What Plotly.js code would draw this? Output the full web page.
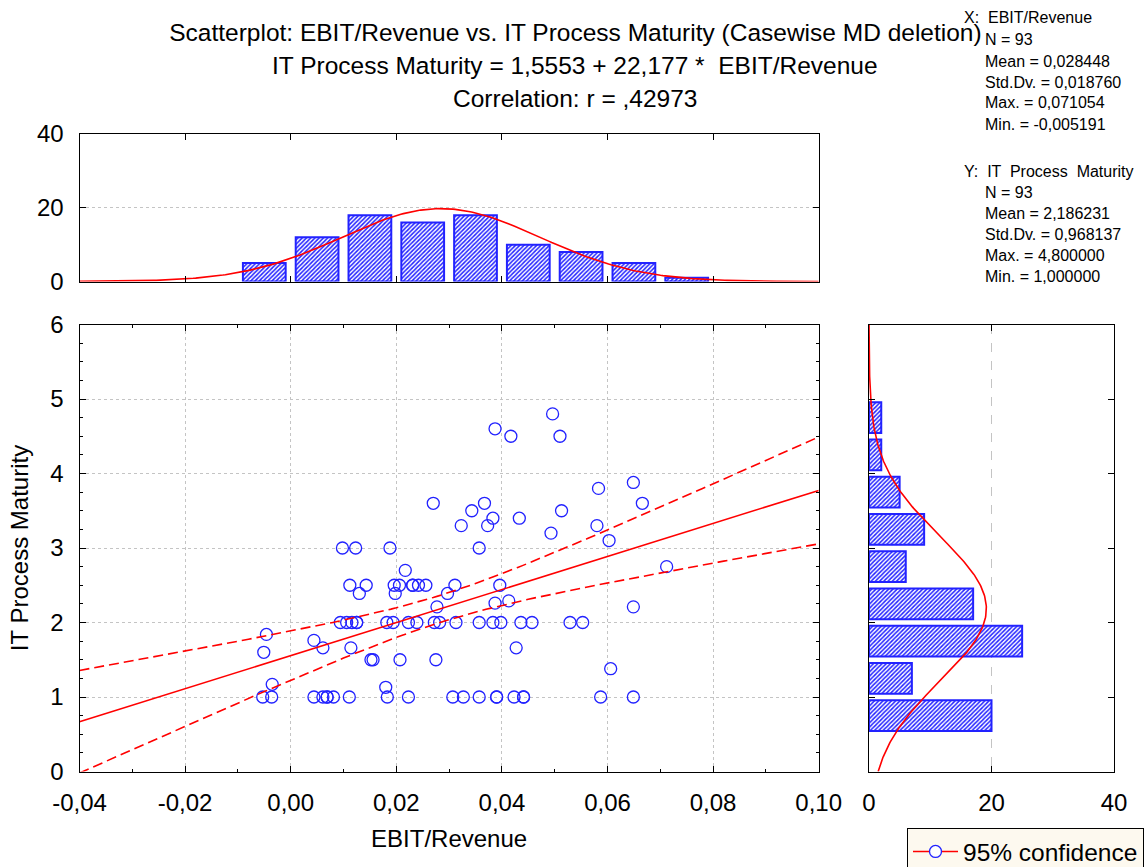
<!DOCTYPE html>
<html><head><meta charset="utf-8">
<script src="https://cdn.plot.ly/plotly-3.0.1.min.js"></script>
<style>html,body{margin:0;padding:0;background:#fff}#chart{width:1144px;height:867px}</style>
</head><body><div id="chart"></div><script>
// ---- Data ----
const ebitRevenue = [
  -0.0053,-0.0036,0.0044,0.0061,0.0069,0.0081,0.0111,0.0183,0.0223,0.0307,0.0327,0.0357,0.0390,0.0423,0.0441,0.0587,0.0649,
  -0.0035,0.0180,0.0606,0.0152,0.0156,0.0207,0.0275,-0.0051,0.0061,0.0114,0.0427,0.0044,-0.0046,
  0.0094,0.0106,0.0116,0.0125,0.0182,0.0194,0.0223,0.0239,0.0272,0.0282,0.0313,0.0357,0.0383,0.0398,0.0436,0.0457,0.0529,0.0553,
  0.0277,0.0387,0.0413,0.0649,0.0130,0.0198,0.0297,
  0.0112,0.0143,0.0196,0.0206,0.0231,0.0242,0.0256,0.0311,0.0396,
  0.0217,0.0712,
  0.0098,0.0123,0.0188,0.0357,
  0.0603,0.0493,0.0323,0.0373,0.0580,0.0383,0.0433,0.0343,0.0513,0.0270,0.0367,0.0666,0.0583,0.0649,
  0.0510,0.0417,0.0387,0.0496,
  0.0069,0.0390,0.0441,0.0125,0.0231
];
const itMaturity = [
  1,1,1,1,1,1,1,1,1,1,1,1,1,1,1,1,1,
  1.17,1.13,1.38,1.5,1.5,1.5,1.5,1.6,1.66,1.66,1.66,1.76,1.84,
  2,2,2,2,2,2,2,2,2,2,2,2,2,2,2,2,2,2,
  2.21,2.26,2.29,2.21,2.39,2.39,2.39,
  2.5,2.5,2.5,2.5,2.5,2.5,2.5,2.5,2.5,
  2.7,2.75,
  3,3,3,3,
  3.1,3.2,3.3,3.3,3.3,3.4,3.4,3.5,3.5,3.6,3.6,3.6,3.8,3.88,
  4.5,4.5,4.6,4.8,
  1,1,1,2,2.5
];
// Histogram of EBIT/Revenue (bin centres, counts)
const xBinCenters = [-0.005,0.005,0.015,0.025,0.035,0.045,0.055,0.065,0.075];
const xBinCounts  = [5,12,18,16,18,10,8,5,1];
// Histogram of IT Process Maturity (bin centres, counts)
const yBinCenters = [0.75,1.25,1.75,2.25,2.75,3.25,3.75,4.25,4.75];
const yBinCounts  = [20,7,25,17,6,9,5,2,2];
// Statistics shown on the chart
const nObs = 93;
const xMean = 0.028448, xSd = 0.018760, xMax = 0.071054, xMin = -0.005191;
const yMean = 2.186231, ySd = 0.968137, yMax = 4.8, yMin = 1.0;
const regIntercept = 1.5553, regSlope = 22.177, corrR = 0.42973;
const xBinWidth = 0.01, yBinWidth = 0.5;
const xAxisRange = [-0.04, 0.10], yAxisRange = [0, 6];
const xTickVals = [-0.04,-0.02,0,0.02,0.04,0.06,0.08,0.10];
const xTickText = ['-0,04','-0,02','0,00','0,02','0,04','0,06','0,08','0,10'];
const statsX = ['X:  EBIT/Revenue','N = 93','Mean = 0,028448','Std.Dv. = 0,018760','Max. = 0,071054','Min. = -0,005191'];
const statsY = ['Y:  IT  Process  Maturity','N = 93','Mean = 2,186231','Std.Dv. = 0,968137','Max. = 4,800000','Min. = 1,000000'];
const titleLines = ['Scatterplot: EBIT/Revenue vs. IT Process Maturity (Casewise MD deletion)',
                    'IT Process Maturity = 1,5553 + 22,177 *  EBIT/Revenue',
                    'Correlation: r = ,42973'];

// ---- Derived curves (regression, confidence band, normal fits) ----
function linspace(a,b,n){const o=[];for(let i=0;i<n;i++)o.push(a+(b-a)*i/(n-1));return o;}
const regX = linspace(xAxisRange[0], xAxisRange[1], 141);
const regY = regX.map(x => regIntercept + regSlope*x);
const sRes = ySd*Math.sqrt(1-corrR*corrR)*Math.sqrt((nObs-1)/(nObs-2));
const sxx = (nObs-1)*xSd*xSd, tCrit = 1.986;
const half = regX.map(x => tCrit*sRes*Math.sqrt(1/nObs + (x-xMean)*(x-xMean)/sxx));
const upY = regY.map((v,i)=>v+half[i]), loY = regY.map((v,i)=>v-half[i]);
function npdf(v,m,s){return Math.exp(-0.5*((v-m)/s)**2)/(s*Math.sqrt(2*Math.PI));}
const nxX = linspace(xAxisRange[0], xAxisRange[1], 300);
const nxY = nxX.map(v => nObs*xBinWidth*npdf(v,xMean,xSd));
const nyY = linspace(yAxisRange[0], yAxisRange[1], 300);
const nyX = nyY.map(v => nObs*yBinWidth*npdf(v,yMean,ySd));

// ---- Layout helpers ----
const W=1144,H=867;
const px = x => x/W, py = y => 1 - y/H;
const FONT = '"Liberation Sans", Arial, Helvetica, sans-serif';
const BLUE = '#2222ff', RED = '#ff0000';
const hatch = {shape:'/', fgcolor:BLUE, bgcolor:'#ffffff', size:3, solidity:0.5};

const traces = [
  {type:'bar', x:xBinCenters, y:xBinCounts, width:0.0081, xaxis:'x2', yaxis:'y2',
   marker:{color:'#ffffff', pattern:hatch, line:{color:BLUE, width:2}}, showlegend:false, hoverinfo:'skip'},
  {type:'scatter', mode:'lines', x:nxX, y:nxY, xaxis:'x2', yaxis:'y2', line:{color:RED,width:1.6}, showlegend:false},
  {type:'bar', orientation:'h', x:yBinCounts, y:yBinCenters, width:0.41, xaxis:'x3', yaxis:'y3',
   marker:{color:'#ffffff', pattern:hatch, line:{color:BLUE, width:2}}, showlegend:false, hoverinfo:'skip'},
  {type:'scatter', mode:'lines', x:nyX, y:nyY, xaxis:'x3', yaxis:'y3', line:{color:RED,width:1.6}, showlegend:false},
  {type:'scatter', mode:'markers', x:ebitRevenue, y:itMaturity, xaxis:'x', yaxis:'y',
   marker:{symbol:'circle-open', size:12, color:BLUE, line:{width:1.3, color:BLUE}}, showlegend:false},
  {type:'scatter', mode:'lines', x:regX, y:regY, line:{color:RED,width:1.6}, showlegend:false},
  {type:'scatter', mode:'lines', x:regX, y:upY, line:{color:RED,width:1.6,dash:'10px,5px'}, showlegend:false},
  {type:'scatter', mode:'lines', x:regX, y:loY, line:{color:RED,width:1.6,dash:'10px,5px'}, showlegend:false},
  {type:'scatter', mode:'lines+markers', x:[null], y:[null], name:'95% confidence',
   line:{color:RED,width:1.6}, marker:{symbol:'circle', size:12, color:'#ffffff', line:{width:1.3,color:BLUE}}, showlegend:true}
];

const axBase = {showline:true, linecolor:'#000', linewidth:1, mirror:'ticks', ticks:'inside', ticklen:6,
  tickcolor:'#000', zeroline:false, tickfont:{size:24, color:'#000'}, automargin:false};
const gridDot = {showgrid:true, gridcolor:'#c4c4c4', griddash:'dot', gridwidth:1};

const mainX = px(79.5), mainX2 = px(818.7);
const layout = {
  width:W, height:H, margin:{l:0,r:0,t:0,b:0,autoexpand:false}, paper_bgcolor:'#fff', plot_bgcolor:'#fff',
  separators:',.', font:{family:FONT, color:'#000', size:24},
  title:{text:titleLines[0], x:0.503, xanchor:'center', y:py(32), yanchor:'middle', yref:'paper', font:{size:24.5}},
  xaxis:Object.assign({}, axBase, gridDot, {domain:[mainX, mainX2], range:xAxisRange,
     tickmode:'array', tickvals:xTickVals, ticktext:xTickText,
     ticklabelstandoff:10, minor:{ticks:'inside', dtick:0.01, ticklen:3, tickcolor:'#000'},
     title:{text:'EBIT/Revenue', font:{size:24}, standoff:14}, anchor:'y'}),
  yaxis:Object.assign({}, axBase, gridDot, {domain:[py(771.5), py(324.5)], range:yAxisRange, dtick:1,
     ticklabelstandoff:10, minor:{ticks:'inside', dtick:0.25, ticklen:3, tickcolor:'#000'},
     title:{text:'IT Process Maturity', font:{size:24}, standoff:14}, anchor:'x'}),
  xaxis2:Object.assign({}, axBase, {domain:[mainX, mainX2], range:xAxisRange, dtick:0.02, showticklabels:false,
     showgrid:false, anchor:'y2'}),
  yaxis2:Object.assign({}, axBase, gridDot, {domain:[py(281.5), py(134)], range:[0,40], dtick:20,
     ticklabelstandoff:10, anchor:'x2'}),
  xaxis3:Object.assign({}, axBase, {domain:[px(869), px(1114)], range:[0,40], dtick:20, ticklabelstandoff:10,
     showgrid:true, gridcolor:'#c4c4c4', griddash:'dash', gridwidth:1, anchor:'y3'}),
  yaxis3:Object.assign({}, axBase, {domain:[py(771.5), py(324.5)], range:yAxisRange, dtick:1, showticklabels:false,
     showgrid:false, anchor:'x3'}),
  showlegend:true,
  legend:{x:px(907), y:py(828), xanchor:'left', yanchor:'top', bgcolor:'#fdf9ef', bordercolor:'#000', borderwidth:1,
     itemwidth:45, font:{size:24.5, color:'#000'}},
  annotations:[]
};
layout.annotations.push({text:titleLines[1], xref:'paper', yref:'paper', x:0.503, y:py(65), xanchor:'center', yanchor:'middle', showarrow:false, font:{size:24.5}});
layout.annotations.push({text:titleLines[2], xref:'paper', yref:'paper', x:0.503, y:py(98), xanchor:'center', yanchor:'middle', showarrow:false, font:{size:24.5}});
const xBlockY = [18,40,61,82,103,124], yBlockY = [171,192,213,234,255,276];
statsX.forEach((t,i)=>layout.annotations.push({text:t, xref:'paper', yref:'paper', x:px(i===0?962:983), y:py(xBlockY[i]),
  xanchor:'left', yanchor:'middle', showarrow:false, font:{size:16}}));
statsY.forEach((t,i)=>layout.annotations.push({text:t, xref:'paper', yref:'paper', x:px(i===0?962:983), y:py(yBlockY[i]),
  xanchor:'left', yanchor:'middle', showarrow:false, font:{size:16}}));

Plotly.newPlot('chart', traces, layout, {displayModeBar:false, staticPlot:true});
</script></body></html>
